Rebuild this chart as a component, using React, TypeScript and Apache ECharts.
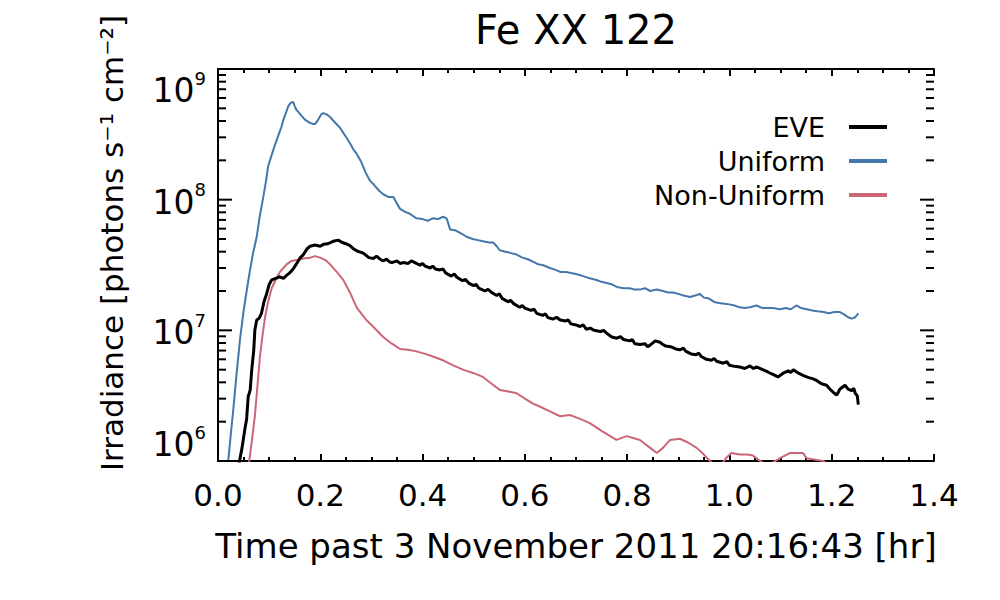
import React, { useEffect, useRef } from "react";
import * as echarts from "echarts";

const FONT = "DejaVu Sans";

const titleText = "Fe XX 122";
const xAxisTitle = "Time past 3 November 2011 20:16:43 [hr]";
const yAxisTitle = "Irradiance [photons s⁻¹ cm⁻²]";
const seriesNames = ["EVE", "Uniform", "Non-Uniform"];
const seriesColors = ["#000000", "#4477AA", "#CC6677"];

// EVE (black)
const eveTime = [
  0.041, 0.047, 0.053, 0.056, 0.059, 0.063, 0.066, 0.07, 0.072, 0.0757, 0.08, 0.085, 0.09, 0.095, 0.1, 0.105,
  0.113, 0.121, 0.128, 0.134, 0.14, 0.147, 0.155, 0.161, 0.167, 0.174, 0.18, 0.19, 0.2, 0.206, 0.215, 0.225,
  0.235, 0.243, 0.25, 0.258, 0.265, 0.272, 0.284, 0.295, 0.304, 0.31, 0.315, 0.322, 0.33, 0.335, 0.34, 0.35, 0.356, 0.362, 0.372,
  0.378, 0.385, 0.395, 0.4, 0.405, 0.415, 0.42, 0.425, 0.434, 0.44, 0.445, 0.456, 0.462, 0.467, 0.478, 0.484, 0.49, 0.5, 0.505, 0.51, 0.522, 0.528, 0.535, 0.545,
  0.55, 0.556, 0.568, 0.572, 0.578, 0.59, 0.595, 0.6, 0.612, 0.618, 0.623, 0.635, 0.64, 0.645, 0.655, 0.662, 0.669, 0.68, 0.685, 0.69, 0.7, 0.708, 0.714, 0.72,
  0.728, 0.735, 0.748, 0.754, 0.76, 0.77, 0.78, 0.787, 0.793, 0.805, 0.81, 0.815, 0.825, 0.835, 0.84, 0.845, 0.855, 0.864, 0.87, 0.875, 0.885, 0.895,
  0.903, 0.91, 0.915, 0.925, 0.935, 0.94, 0.945, 0.955, 0.965, 0.97, 0.975, 0.988, 0.995, 1.0, 1.01, 1.02, 1.03, 1.04, 1.047, 1.053, 1.065,
  1.075, 1.085, 1.095, 1.105, 1.115, 1.12, 1.125, 1.135, 1.145, 1.155, 1.164, 1.172, 1.18, 1.19, 1.198, 1.205, 1.21,
  1.216, 1.222, 1.226, 1.232, 1.239, 1.243, 1.246, 1.25, 1.252,
];
const eveValue = [
  9.5e5, 1.26e6, 1.8e6, 2.1e6, 3.1e6, 3.5e6, 5.0e6, 7.1e6, 1.0e7, 1.2e7, 1.23e7, 1.35e7, 1.66e7, 1.9e7, 2.24e7, 2.43e7,
  2.5e7, 2.57e7, 2.5e7, 2.63e7, 2.75e7, 2.95e7, 3.3e7, 3.6e7, 3.8e7, 4.2e7, 4.4e7, 4.5e7, 4.4e7, 4.55e7, 4.6e7, 4.8e7,
  4.9e7, 4.7e7, 4.6e7, 4.45e7, 4.2e7, 4.05e7, 3.9e7, 3.6e7, 3.55e7, 3.7e7, 3.55e7, 3.4e7, 3.5e7, 3.35e7, 3.3e7, 3.4e7, 3.25e7, 3.3e7, 3.25e7,
  3.4e7, 3.3e7, 3.15e7, 3.25e7, 3.1e7, 3.0e7, 3.1e7, 2.95e7, 2.9e7, 2.95e7, 2.75e7, 2.6e7, 2.7e7, 2.55e7, 2.4e7, 2.45e7, 2.3e7, 2.2e7, 2.25e7, 2.1e7, 2.0e7, 2.06e7, 1.95e7, 1.85e7,
  1.9e7, 1.75e7, 1.65e7, 1.7e7, 1.6e7, 1.5e7, 1.55e7, 1.48e7, 1.42e7, 1.45e7, 1.35e7, 1.3e7, 1.34e7, 1.25e7, 1.22e7, 1.26e7, 1.2e7, 1.18e7, 1.2e7, 1.12e7, 1.1e7, 1.07e7, 1.1e7, 1.02e7,
  1.04e7, 1.0e7, 9.8e6, 1.0e7, 9.5e6, 8.9e6, 8.7e6, 8.95e6, 8.5e6, 8.3e6, 8.5e6, 7.9e6, 7.8e6, 7.9e6, 7.5e6, 7.7e6, 8.3e6, 8.1e6, 7.8e6, 7.6e6, 7.5e6, 7.2e6,
  7.1e6, 7.3e6, 6.9e6, 6.6e6, 6.5e6, 6.7e6, 6.3e6, 6.0e6, 5.9e6, 6.1e6, 5.8e6, 5.6e6, 5.75e6, 5.4e6, 5.3e6, 5.25e6, 5.1e6, 5.35e6, 5.1e6, 5.25e6, 5.0e6,
  4.8e6, 4.6e6, 4.4e6, 4.7e6, 4.9e6, 4.75e6, 5.0e6, 4.7e6, 4.5e6, 4.35e6, 4.25e6, 4.1e6, 3.9e6, 3.8e6, 3.5e6, 3.3e6, 3.2e6,
  3.55e6, 3.7e6, 3.8e6, 3.55e6, 3.45e6, 3.6e6, 3.3e6, 3.15e6, 2.7e6,
];

// Uniform (blue)
const uniformTime = [
  0.018, 0.02, 0.025, 0.03, 0.036, 0.043, 0.05, 0.056, 0.062, 0.068, 0.0757, 0.082, 0.0886, 0.094, 0.098, 0.105,
  0.111, 0.118, 0.124, 0.128, 0.1375, 0.142, 0.147, 0.15, 0.153, 0.157, 0.163, 0.17, 0.178, 0.185, 0.19, 0.196,
  0.202, 0.206, 0.212, 0.219, 0.226, 0.2386, 0.246, 0.252, 0.258, 0.264, 0.271, 0.28, 0.289, 0.297, 0.305, 0.315,
  0.323, 0.333, 0.343, 0.35, 0.356, 0.365, 0.375, 0.388, 0.4, 0.41, 0.42, 0.43, 0.44, 0.447, 0.454, 0.465,
  0.476, 0.486, 0.498, 0.508, 0.518, 0.53, 0.538, 0.545, 0.551, 0.562, 0.573, 0.584, 0.595, 0.606, 0.616, 0.626,
  0.636, 0.649, 0.66, 0.669, 0.681, 0.69, 0.7, 0.714, 0.727, 0.74, 0.75, 0.76, 0.77, 0.78, 0.793, 0.805,
  0.815, 0.825, 0.835, 0.845, 0.858, 0.87, 0.88, 0.89, 0.9, 0.91, 0.923, 0.933, 0.9425, 0.95, 0.96, 0.97,
  0.98, 0.99, 1.0, 1.01, 1.02, 1.03, 1.04, 1.053, 1.065, 1.075, 1.086, 1.098, 1.11, 1.12, 1.131, 1.14,
  1.151, 1.162, 1.172, 1.184, 1.195, 1.205, 1.216, 1.225, 1.232, 1.239, 1.246, 1.252,
];
const uniformValue = [
  8.9e5, 1.0e6, 1.6e6, 2.5e6, 4.5e6, 8.5e6, 1.4e7, 2.0e7, 2.8e7, 3.8e7, 5.2e7, 7.6e7, 1.05e8, 1.4e8, 1.8e8, 2.2e8,
  2.6e8, 3.1e8, 3.6e8, 4.1e8, 5.2e8, 5.5e8, 5.6e8, 5.2e8, 4.9e8, 4.7e8, 4.4e8, 4.1e8, 3.9e8, 3.8e8, 3.8e8, 4.1e8,
  4.5e8, 4.6e8, 4.5e8, 4.3e8, 4.0e8, 3.55e8, 3.2e8, 2.95e8, 2.7e8, 2.45e8, 2.25e8, 1.95e8, 1.6e8, 1.4e8, 1.3e8, 1.17e8,
  1.1e8, 1.05e8, 1.05e8, 9.3e7, 8.5e7, 8.1e7, 7.8e7, 7.2e7, 7.1e7, 6.9e7, 7.2e7, 7.1e7, 7.4e7, 7.2e7, 5.9e7, 5.8e7,
  5.5e7, 5.2e7, 5.0e7, 4.9e7, 4.8e7, 4.7e7, 4.7e7, 4.4e7, 4.1e7, 4.0e7, 3.9e7, 3.8e7, 3.6e7, 3.5e7, 3.35e7, 3.2e7,
  3.15e7, 3.0e7, 2.9e7, 2.8e7, 2.8e7, 2.75e7, 2.7e7, 2.6e7, 2.5e7, 2.43e7, 2.35e7, 2.3e7, 2.25e7, 2.15e7, 2.1e7, 2.1e7,
  2.05e7, 2.05e7, 2.1e7, 2.0e7, 2.05e7, 2.0e7, 1.95e7, 1.95e7, 1.9e7, 1.85e7, 1.8e7, 1.85e7, 1.9e7, 1.78e7, 1.75e7, 1.65e7,
  1.62e7, 1.6e7, 1.58e7, 1.55e7, 1.5e7, 1.48e7, 1.5e7, 1.55e7, 1.48e7, 1.48e7, 1.48e7, 1.45e7, 1.48e7, 1.45e7, 1.55e7, 1.48e7,
  1.45e7, 1.42e7, 1.4e7, 1.38e7, 1.35e7, 1.38e7, 1.38e7, 1.32e7, 1.26e7, 1.23e7, 1.26e7, 1.35e7,
];

// Non-Uniform (red)
const nonUniformTime = [
  0.06, 0.061, 0.066, 0.072, 0.077, 0.082, 0.087, 0.092, 0.098, 0.105, 0.113, 0.121, 0.128, 0.134, 0.144, 0.154,
  0.167, 0.18, 0.19, 0.1995, 0.21, 0.219, 0.232, 0.245, 0.258, 0.271, 0.28, 0.29, 0.305, 0.323, 0.34, 0.356,
  0.372, 0.388, 0.405, 0.42, 0.44, 0.46, 0.479, 0.5, 0.518, 0.535, 0.551, 0.568, 0.584, 0.6, 0.616, 0.63,
  0.649, 0.669, 0.688, 0.708, 0.727, 0.75, 0.779, 0.799, 0.825, 0.845, 0.858, 0.87, 0.884, 0.903, 0.92, 0.936,
  0.95, 0.962, 0.972, 0.985, 0.995, 1.004, 1.02, 1.035, 1.046, 1.06, 1.075, 1.09, 1.099, 1.118, 1.135, 1.144,
  1.151, 1.17, 1.184, 1.19,
];
const nonUniformValue = [
  8.9e5, 1.0e6, 1.4e6, 2.2e6, 3.7e6, 6.3e6, 9.1e6, 1.26e7, 1.66e7, 2.1e7, 2.45e7, 2.8e7, 3.0e7, 3.2e7, 3.4e7, 3.45e7,
  3.55e7, 3.6e7, 3.7e7, 3.6e7, 3.45e7, 3.2e7, 2.8e7, 2.43e7, 1.95e7, 1.5e7, 1.35e7, 1.2e7, 1.05e7, 8.9e6, 7.9e6, 7.2e6,
  7.1e6, 6.9e6, 6.6e6, 6.3e6, 5.9e6, 5.4e6, 5.0e6, 4.7e6, 4.4e6, 3.9e6, 3.5e6, 3.4e6, 3.3e6, 3.0e6, 2.75e6, 2.6e6,
  2.4e6, 2.2e6, 2.25e6, 2.1e6, 1.95e6, 1.7e6, 1.45e6, 1.55e6, 1.45e6, 1.26e6, 1.15e6, 1.26e6, 1.45e6, 1.48e6, 1.38e6, 1.26e6,
  1.12e6, 1.0e6, 9.3e5, 9.5e5, 1.07e6, 1.15e6, 1.12e6, 1.12e6, 1.1e6, 1.0e6, 9.3e5, 1.0e6, 1.05e6, 1.15e6, 1.15e6, 1.15e6,
  1.05e6, 1.02e6, 1.0e6, 9.5e5,
];

// axis structure
const xMin = 0;
const xMax = 1.4;
const xInterval = 0.2;
const yMin = 1e6;
const yMax = 1e9;
const yMajorTicks = [1e6, 1e7, 1e8, 1e9];
const yMinorTicks = [
  2e6, 3e6, 4e6, 5e6, 6e6, 7e6, 8e6, 9e6,
  2e7, 3e7, 4e7, 5e7, 6e7, 7e7, 8e7, 9e7,
  2e8, 3e8, 4e8, 5e8, 6e8, 7e8, 8e8, 9e8,
];

const pairs = (t: number[], v: number[]) => t.map((x, i) => [x, v[i]]);

const tickSeries = (name: string, values: number[], len: number) => ({
  name,
  type: "custom",
  xAxisIndex: 0,
  yAxisIndex: 0,
  silent: true,
  clip: false,
  z: 10,
  data: values.map((v) => [0, v]),
  encode: { x: 0, y: 1 },
  renderItem: (params: any, api: any) => {
    const y = api.coord([0, api.value(1)])[1];
    const cs = params.coordSys;
    return {
      type: "group",
      children: [
        {
          type: "rect",
          shape: { x: cs.x, y: y - 1, width: len, height: 2 },
          style: { fill: "#000" },
        },
        {
          type: "rect",
          shape: { x: cs.x + cs.width - len, y: y - 1, width: len, height: 2 },
          style: { fill: "#000" },
        },
      ],
    };
  },
});

export default function App() {
  const ref = useRef<HTMLDivElement>(null);

  useEffect(() => {
    document.body.style.margin = "0";
    if (!ref.current) return;
    const chart = echarts.init(ref.current, null, { renderer: "svg" });

    const axisLine = { show: true, lineStyle: { color: "#000", width: 2 } };
    const xTick = { show: true, inside: true, length: 7, lineStyle: { color: "#000", width: 2 } };
    const xMinor = { show: true, splitNumber: 4, length: 4, lineStyle: { color: "#000", width: 2 } };

    const lineSeries = (idx: number, t: number[], v: number[], width: number, z: number) => ({
      name: seriesNames[idx],
      type: "line",
      xAxisIndex: 0,
      yAxisIndex: 0,
      data: pairs(t, v),
      showSymbol: false,
      symbol: "none",
      clip: true,
      z,
      color: seriesColors[idx],
      lineStyle: { color: seriesColors[idx], width },
    });

    const option: any = {
      animation: false,
      backgroundColor: "#fff",
      title: {
        text: titleText,
        left: 576,
        top: 10,
        padding: 0,
        textAlign: "center",
        textStyle: { fontFamily: FONT, fontSize: 40, fontWeight: "normal", color: "#000" },
      },
      legend: {
        data: seriesNames,
        orient: "vertical",
        align: "right",
        right: 113,
        top: 112,
        padding: 0,
        itemWidth: 38,
        itemHeight: 4,
        itemGap: 4,
        icon: "rect",
        selectedMode: false,
        textStyle: {
          fontFamily: FONT,
          fontSize: 27,
          lineHeight: 30,
          color: "#000",
          padding: [0, 19, 0, 0],
        },
      },
      grid: { left: 218, right: 66, top: 69, bottom: 139, containLabel: false },
      xAxis: [
        {
          type: "value",
          position: "bottom",
          min: xMin,
          max: xMax,
          interval: xInterval,
          axisLine,
          axisTick: xTick,
          minorTick: xMinor,
          splitLine: { show: false },
          axisLabel: {
            margin: 18,
            fontFamily: FONT,
            fontSize: 31,
            color: "#000",
            formatter: (v: number) => v.toFixed(1),
          },
          name: xAxisTitle,
          nameLocation: "middle",
          nameGap: 68,
          nameTextStyle: { fontFamily: FONT, fontSize: 34, color: "#000" },
        },
        {
          type: "value",
          position: "top",
          min: xMin,
          max: xMax,
          interval: xInterval,
          axisLine,
          axisTick: xTick,
          minorTick: xMinor,
          splitLine: { show: false },
          axisLabel: { show: false },
        },
      ],
      yAxis: [
        {
          type: "log",
          logBase: 10,
          position: "left",
          min: yMin,
          max: yMax,
          interval: 1,
          axisLine,
          axisTick: { show: false },
          splitLine: { show: false },
          axisLabel: {
            margin: 12,
            color: "#000",
            verticalAlignMinLabel: "bottom",
            verticalAlignMaxLabel: "top",
            formatter: (v: number) => `{b|10}{s|${Math.round(Math.log10(v))}}`,
            rich: {
              b: { fontFamily: FONT, fontSize: 33, lineHeight: 38, verticalAlign: "bottom", color: "#000" },
              s: { fontFamily: FONT, fontSize: 18, lineHeight: 16, verticalAlign: "top", color: "#000" },
            },
          },
        },
        {
          type: "log",
          logBase: 10,
          position: "right",
          min: yMin,
          max: yMax,
          interval: 1,
          axisLine,
          axisTick: { show: false },
          splitLine: { show: false },
          axisLabel: { show: false },
        },
      ],
      graphic: [
        {
          type: "text",
          x: 112,
          y: 243,
          rotation: Math.PI / 2,
          style: {
            text: yAxisTitle,
            font: `31px "${FONT}"`,
            fill: "#000",
            align: "center",
            verticalAlign: "middle",
            textAlign: "center",
            textVerticalAlign: "middle",
          },
        },
      ],
      series: [
        tickSeries("yMajorTicks", yMajorTicks, 14),
        tickSeries("yMinorTicks", yMinorTicks, 8),
        lineSeries(1, uniformTime, uniformValue, 2, 2),
        lineSeries(2, nonUniformTime, nonUniformValue, 2, 3),
        lineSeries(0, eveTime, eveValue, 3, 4),
      ],
    };

    chart.setOption(option);
    return () => chart.dispose();
  }, []);

  return <div ref={ref} style={{ width: 1000, height: 600 }} />;
}
